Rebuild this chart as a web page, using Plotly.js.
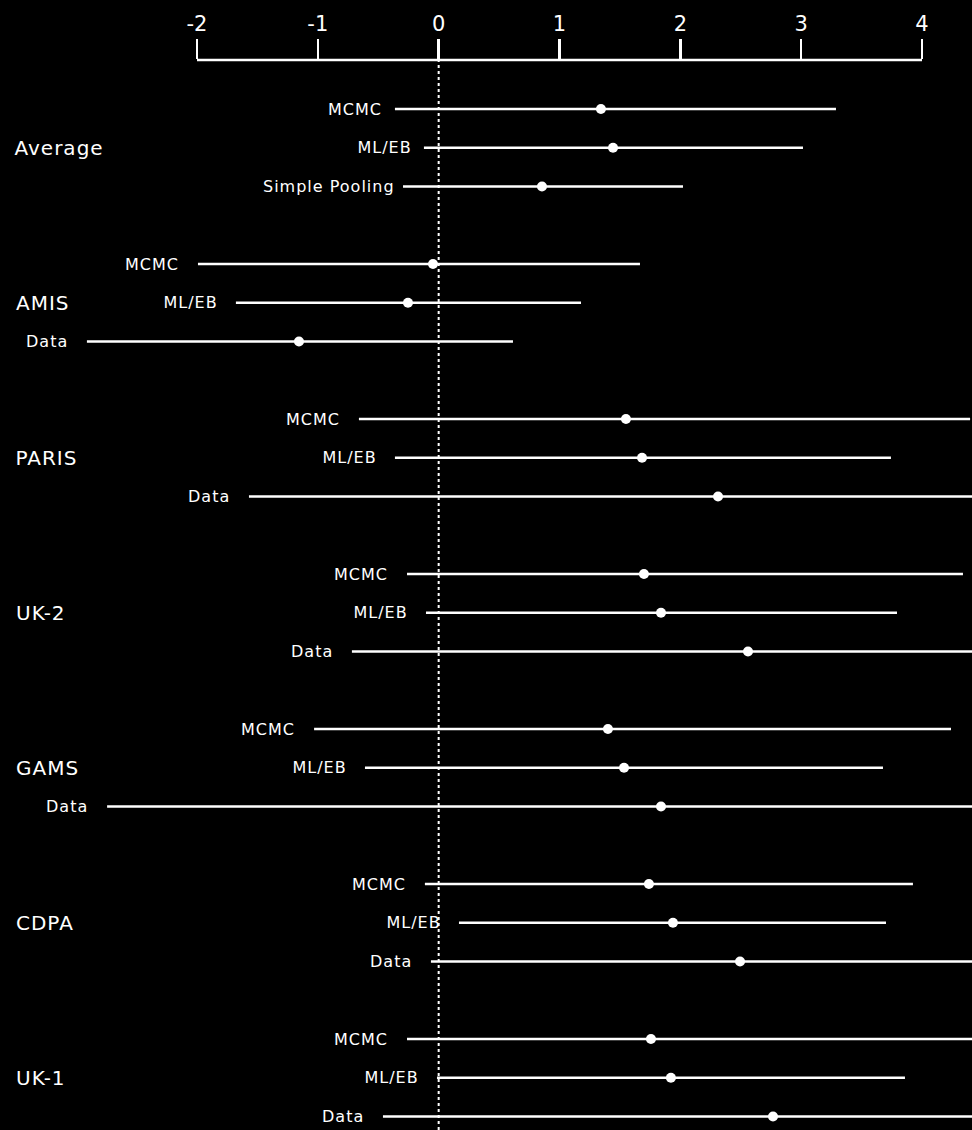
<!DOCTYPE html>
<html>
<head>
<meta charset="utf-8">
<script src="https://cdn.plot.ly/plotly-3.0.1.min.js"></script>
<style>
html,body{margin:0;padding:0;background:#000;}
#chart{width:972px;height:1130px;}
#chart .annotation-text{letter-spacing:1px;}
</style>
</head>
<body>
<div id="chart"></div>
<script>
// Groups and methods (top to bottom)
const groups = ["Average", "AMIS", "PARIS", "UK-2", "GAMS", "CDPA", "UK-1"];
const methods = [
  ["MCMC", "ML/EB", "Simple Pooling"],
  ["MCMC", "ML/EB", "Data"],
  ["MCMC", "ML/EB", "Data"],
  ["MCMC", "ML/EB", "Data"],
  ["MCMC", "ML/EB", "Data"],
  ["MCMC", "ML/EB", "Data"],
  ["MCMC", "ML/EB", "Data"]
];
// point estimates
const estimates = [
  [1.343, 1.443, 0.855],
  [-0.047, -0.254, -1.156],
  [1.550, 1.683, 2.312],
  [1.699, 1.840, 2.560],
  [1.401, 1.534, 1.840],
  [1.740, 1.939, 2.494],
  [1.757, 1.922, 2.767]
];
// interval lower bounds
const lower = [
  [-0.362, -0.122, -0.295],
  [-1.992, -1.678, -2.911],
  [-0.660, -0.362, -1.570],
  [-0.262, -0.105, -0.718],
  [-1.031, -0.610, -2.744],
  [-0.114, 0.168, -0.064],
  [-0.262, -0.014, -0.461]
];
// interval upper bounds
const upper = [
  [3.288, 3.015, 2.022],
  [1.666, 1.178, 0.615],
  [4.398, 3.743, 6.2],
  [4.339, 3.793, 5.8],
  [4.240, 3.677, 6.4],
  [3.925, 3.702, 5.0],
  [5.0, 3.859, 6.0]
];
const xTicks = [-2, -1, 0, 1, 2, 3, 4];

const FONT = "'DejaVu Sans', sans-serif";
const xs = [], ys = [], ep = [], em = [];
const annotations = [];
groups.forEach((g, gi) => {
  methods[gi].forEach((m, mi) => {
    const yi = gi * 4 + mi;
    xs.push(estimates[gi][mi]);
    ys.push(yi);
    ep.push(upper[gi][mi] - estimates[gi][mi]);
    em.push(estimates[gi][mi] - lower[gi][mi]);
    annotations.push({
      x: lower[gi][mi], y: yi, xref: 'x', yref: 'y',
      text: m, showarrow: false, xanchor: 'right', yanchor: 'middle',
      xshift: gi === 0 ? -13 : -19, font: {family: FONT, size: 16, color: '#fff'}
    });
  });
  annotations.push({
    x: 16 / 972, y: gi * 4 + 1, xref: 'paper', yref: 'y',
    text: g, showarrow: false, xanchor: 'left', yanchor: 'middle',
    font: {family: FONT, size: 20, color: '#fff'}
  });
});

const trace = {
  type: 'scatter', mode: 'markers',
  x: xs, y: ys,
  marker: {color: '#fff', size: 10},
  error_x: {type: 'data', symmetric: false, array: ep, arrayminus: em,
            width: 0, thickness: 2.5, color: '#fff'},
  hoverinfo: 'x'
};

const pxPerUnit = (922 - 197) / 6;
const xmin = -2 - 197 / pxPerUnit;
const xmax = 4 + (972 - 922) / pxPerUnit;
const slot = 38.75;
const yTop = (60 - 109) / slot;
const yBot = (1130 - 109) / slot;

const layout = {
  width: 972, height: 1130,
  paper_bgcolor: '#000', plot_bgcolor: '#000',
  margin: {l: 0, r: 0, t: 60, b: 0, pad: 0},
  showlegend: false,
  xaxis: {
    range: [xmin, xmax], side: 'top', tickvals: xTicks,
    ticktext: xTicks.map(String),
    ticks: 'outside', ticklen: 20, tickwidth: 2.5, tickcolor: '#fff',
    tickfont: {family: FONT, size: 21, color: '#fff'},
    showgrid: false, zeroline: false, showline: false, fixedrange: true
  },
  yaxis: {
    range: [yBot, yTop], visible: false, showgrid: false, zeroline: false, fixedrange: true
  },
  shapes: [
    {type: 'line', xref: 'x', yref: 'paper', x0: -2, x1: 4, y0: 1, y1: 1,
     line: {color: '#fff', width: 2.5}},
    {type: 'line', xref: 'x', yref: 'paper', x0: 0, x1: 0, y0: 0, y1: 1,
     line: {color: '#fff', width: 2, dash: 'dot'}, layer: 'below'}
  ],
  annotations: annotations
};

Plotly.newPlot('chart', [trace], layout, {displayModeBar: false, staticPlot: true});
</script>
</body>
</html>
